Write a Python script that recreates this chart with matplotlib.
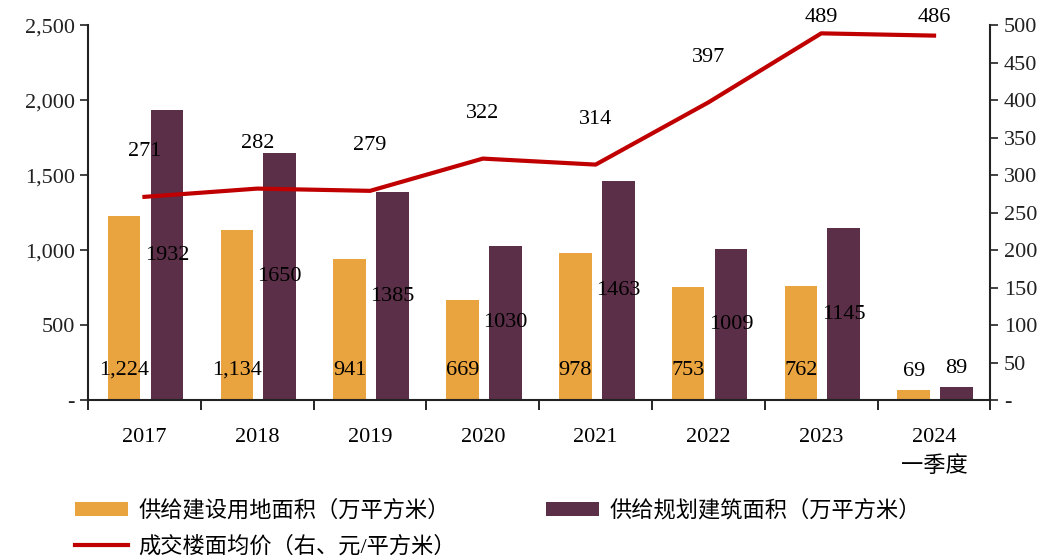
import matplotlib.pyplot as plt
import numpy as np
from matplotlib.ticker import FuncFormatter

plt.rcParams['font.family'] = ['Liberation Serif', 'Noto Sans CJK SC']

# data
years = ['2017', '2018', '2019', '2020', '2021', '2022', '2023', '2024\n一季度']
land_area = [1224, 1134, 941, 669, 978, 753, 762, 69]       # 供给建设用地面积
build_area = [1932, 1650, 1385, 1030, 1463, 1009, 1145, 89]  # 供给规划建筑面积
floor_price = [271, 282, 279, 322, 314, 397, 489, 486]      # 成交楼面均价

c_orange = '#E9A33F'
c_purple = '#5B2F48'
c_red = '#C00000'

fig = plt.figure(figsize=(10.53, 5.58), dpi=100)
ax = fig.add_axes([0.0836, 0.283, 0.857, 0.672])
ax2 = ax.twinx()

x = np.arange(len(years))
w = 0.29
b1 = ax.bar(x - 0.18, land_area, w, color=c_orange, label='供给建设用地面积（万平方米）')
b2 = ax.bar(x + 0.2, build_area, w, color=c_purple, label='供给规划建筑面积（万平方米）')

fs = 16
for i in range(len(x)):
    if land_area[i] < 300:
        ax.text(x[i] - 0.18, land_area[i] + 60, f'{land_area[i]:,}', ha='center', va='bottom', fontsize=fs)
        ax.text(x[i] + 0.2, build_area[i] + 60, f'{build_area[i]}', ha='center', va='bottom', fontsize=fs)
    else:
        ax.text(x[i] - 0.18, 200, f'{land_area[i]:,}', ha='center', va='center', fontsize=fs)
        ax.text(x[i] + 0.2, build_area[i] / 2, f'{build_area[i]}', ha='center', va='center', fontsize=fs)

ln, = ax2.plot(x, floor_price, color=c_red, lw=3, label='成交楼面均价（右、元/平方米）')
for i in range(len(x)):
    ax2.text(x[i], min(floor_price[i] + 60, 510), str(floor_price[i]), ha='center', va='center', fontsize=fs)

ax.set_xlim(-0.5, len(years) - 0.5)
ax.set_ylim(0, 2500)
ax2.set_ylim(0, 500)
ax.set_yticks(np.arange(0, 2501, 500))
ax2.set_yticks(np.arange(0, 501, 50))
ax.yaxis.set_major_formatter(FuncFormatter(lambda v, p: '-' if v == 0 else f'{int(v):,}'))
ax2.yaxis.set_major_formatter(FuncFormatter(lambda v, p: '-' if v == 0 else f'{int(v)}'))

ax.set_xticks(x)
ax.set_xticklabels(years, fontsize=fs, linespacing=1.6)
ax.set_xticks(np.arange(-0.5, len(years) + 0.5, 1), minor=True)
ax.tick_params(axis='x', which='major', length=0, pad=20)
ax.tick_params(axis='x', which='minor', length=7, width=1.2, direction='out')
ax.tick_params(axis='y', labelsize=fs, length=6, width=1.2, colors='#222222')
ax2.tick_params(axis='y', labelsize=fs, length=6, width=1.2, colors='#222222')

for a in (ax, ax2):
    a.spines['top'].set_visible(False)
ax.spines['right'].set_visible(False)
for s in ('left', 'bottom'):
    ax.spines[s].set_linewidth(1.5)
    ax.spines[s].set_color('#222222')
ax2.spines['right'].set_linewidth(1.5)
ax2.spines['right'].set_color('#222222')
ax2.spines['left'].set_visible(False)
ax2.spines['bottom'].set_visible(False)

fig.legend(handles=[b1, ln, b2], ncol=2, loc='upper left', bbox_to_anchor=(0.052, 0.14),
           frameon=False, fontsize=16, handlelength=2.4, handleheight=0.6,
           columnspacing=4.05, labelspacing=0.65, handletextpad=0.45)

plt.savefig('out.png', dpi=100)
